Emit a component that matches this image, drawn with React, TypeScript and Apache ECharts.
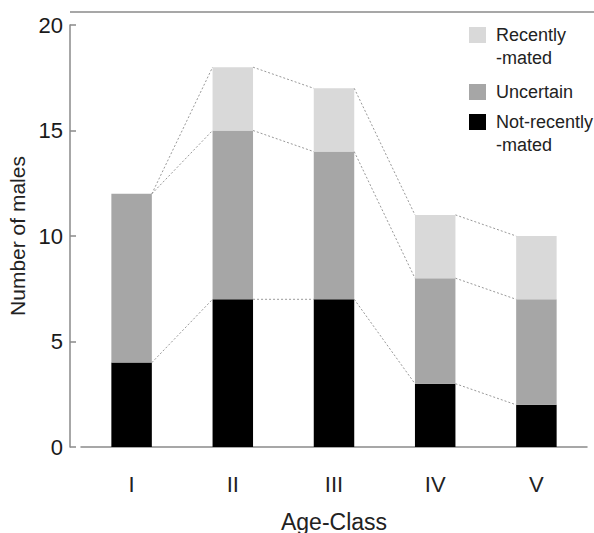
import React, { useEffect, useRef } from "react";
import * as echarts from "echarts";

const categories = ["I", "II", "III", "IV", "V"];
const notRecentlyMated = [4, 7, 7, 3, 2];
const uncertain = [8, 8, 7, 5, 5];
const recentlyMated = [0, 3, 3, 3, 3];
const yTicks = [0, 5, 10, 15, 20];

const COLORS = { recent: "#d9d9d9", uncertain: "#a6a6a6", notRecent: "#000000" };
const FONT = "Liberation Sans, Arial, sans-serif";

export default function App() {
  const ref = useRef<HTMLDivElement>(null);
  useEffect(() => {
    if (!ref.current) return;
    const chart = echarts.init(ref.current, undefined, { renderer: "svg" });
    const tops = categories.map((_, i) => [
      notRecentlyMated[i],
      notRecentlyMated[i] + uncertain[i],
      notRecentlyMated[i] + uncertain[i] + recentlyMated[i],
    ]);
    const links: number[][] = [];
    for (let i = 0; i < categories.length - 1; i++) {
      for (let l = 0; l < 3; l++) links.push([i, tops[i][l], tops[i + 1][l]]);
    }
    const axisColor = "#8a8a8a";
    chart.setOption({
      animation: false,
      textStyle: { fontFamily: FONT },
      grid: { left: 81, right: 7, top: 25, bottom: 86, containLabel: false, outerBoundsMode: "none" },
      xAxis: {
        type: "category",
        data: categories,
        boundaryGap: true,
        axisLine: { lineStyle: { color: axisColor, width: 1.5 } },
        axisTick: { inside: true, length: 10, alignWithLabel: false, lineStyle: { color: axisColor, width: 1.5 } },
        axisLabel: { color: "#222", fontSize: 22, margin: 26, fontFamily: FONT },
        name: "Age-Class",
        nameLocation: "middle",
        nameGap: 63,
        nameTextStyle: { color: "#222", fontSize: 23, fontFamily: FONT },
      },
      yAxis: {
        type: "value",
        min: yTicks[0],
        max: yTicks[yTicks.length - 1],
        interval: 5,
        offset: 11,
        splitLine: { show: false },
        axisLine: { show: true, lineStyle: { color: axisColor, width: 1.5 } },
        axisTick: { show: true, inside: true, length: 6, lineStyle: { color: axisColor, width: 1.5 } },
        axisLabel: { color: "#1a1a1a", fontSize: 22, margin: 7, fontFamily: FONT },
        name: "Number of males",
        nameLocation: "middle",
        nameGap: 39,
        nameTextStyle: { color: "#222", fontSize: 21, fontFamily: FONT },
      },
      series: [
        {
          name: "Not-recently-mated",
          type: "bar",
          stack: "a",
          barWidth: "40%",
          data: notRecentlyMated,
          itemStyle: { color: COLORS.notRecent },
        },
        {
          name: "Uncertain",
          type: "bar",
          stack: "a",
          barWidth: "40%",
          data: uncertain,
          itemStyle: { color: COLORS.uncertain },
        },
        {
          name: "Recently-mated",
          type: "bar",
          stack: "a",
          barWidth: "40%",
          data: recentlyMated,
          itemStyle: { color: COLORS.recent },
        },
        {
          type: "custom",
          z: 5,
          data: links,
          encode: { x: 0, y: 1 },
          renderItem: (params: any, api: any) => {
            const i = api.value(0);
            const from = api.value(1);
            const to = api.value(2);
            const p1 = api.coord([i, from]);
            const p2 = api.coord([i + 1, to]);
            const half = (api.size([1, 0])[0] * 0.4) / 2;
            return {
              type: "line",
              shape: { x1: p1[0] + half, y1: p1[1], x2: p2[0] - half, y2: p2[1] },
              style: { stroke: "#999999", lineWidth: 1, lineDash: [2, 2] },
            };
          },
        },
      ],
      graphic: [
        { type: "line", shape: { x1: 70, y1: 12, x2: 594, y2: 12 }, style: { stroke: axisColor, lineWidth: 1.5 } },
        { type: "rect", shape: { x: 469, y: 27, width: 17, height: 16 }, style: { fill: COLORS.recent } },
        { type: "rect", shape: { x: 469, y: 84, width: 17, height: 16 }, style: { fill: COLORS.uncertain } },
        { type: "rect", shape: { x: 469, y: 114, width: 17, height: 16 }, style: { fill: COLORS.notRecent } },
        {
          type: "text",
          x: 496,
          y: 23,
          style: { text: "Recently\n-mated", font: `18px ${FONT}`, fill: "#222", lineHeight: 23, textVerticalAlign: "top" },
        },
        {
          type: "text",
          x: 496,
          y: 80,
          style: { text: "Uncertain", font: `18px ${FONT}`, fill: "#222", lineHeight: 23, textVerticalAlign: "top" },
        },
        {
          type: "text",
          x: 496,
          y: 110,
          style: { text: "Not-recently\n-mated", font: `18px ${FONT}`, fill: "#222", lineHeight: 23, textVerticalAlign: "top" },
        },
      ],
    });
    return () => chart.dispose();
  }, []);
  return <div ref={ref} style={{ width: 594, height: 533, position: "absolute", left: 0, top: 0 }} />;
}
